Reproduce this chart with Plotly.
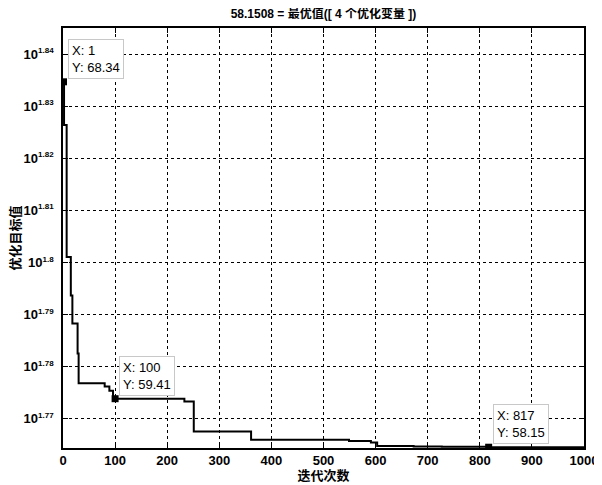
import math
import plotly.graph_objects as go

# step-change iterations and best objective values (held until next change)
iters = [1, 2, 7, 15, 18, 28, 30, 80, 89, 96, 233, 251, 361, 549, 591, 603, 673, 727, 817, 1000]
best_vals = [68.34, 67.05, 63.25, 62.18, 61.42, 60.61, 59.82, 59.73, 59.62, 59.41,
             59.34, 58.555, 58.34, 58.31, 58.27, 58.18, 58.17, 58.16, 58.15, 58.15]

tip_x = [1, 100, 817]
tip_y = [68.34, 59.41, 58.15]

y_tick_exps = [1.77, 1.78, 1.79, 1.80, 1.81, 1.82, 1.83, 1.84]
y_tick_exp_text = ["1.77", "1.78", "1.79", "1.8", "1.81", "1.82", "1.83", "1.84"]
x_ticks = [0, 100, 200, 300, 400, 500, 600, 700, 800, 900, 1000]

title_text = "58.1508 = 最优值([ 4 个优化变量 ])"
x_label = "迭代次数"
y_label = "优化目标值"

font_family = "Arial, Liberation Sans, Noto Sans CJK SC, sans-serif"

fig = go.Figure()
fig.add_trace(go.Scatter(x=iters, y=best_vals, mode="lines", line_shape="hv",
                         line=dict(color="black", width=2), showlegend=False,
                         hoverinfo="skip"))
fig.add_trace(go.Scatter(x=tip_x, y=tip_y, mode="markers",
                         marker=dict(symbol="square", size=7, color="black"),
                         showlegend=False))

for xv, yv in zip(tip_x, tip_y):
    fig.add_annotation(x=xv, y=math.log10(yv), xref="x", yref="y",
                       text=f"X: {xv}<br>Y: {yv:.2f}", showarrow=False,
                       xanchor="left", yanchor="bottom", xshift=4, yshift=3,
                       align="left", bgcolor="white", bordercolor="#c8c8c8",
                       borderwidth=1, borderpad=3,
                       font=dict(family=font_family, size=13, color="black"))

fig.update_layout(
    width=602, height=485,
    margin=dict(l=55, r=26, t=20, b=45),
    paper_bgcolor="white", plot_bgcolor="white",
    title=dict(text="<b>" + title_text + "</b>", x=0.5, xref="paper", xanchor="center",
               y=0.9876, yanchor="middle",
               font=dict(family=font_family, size=12, color="black")),
    font=dict(family=font_family, color="black"),
)
fig.update_xaxes(range=[0, 1000], tickvals=x_ticks,
                 ticktext=[f"<b>{t}</b>" for t in x_ticks],
                 ticks="inside", ticklen=5, tickcolor="black",
                 showline=True, linecolor="black", linewidth=1.5, mirror="ticks",
                 showgrid=True, gridcolor="black", griddash="dot", gridwidth=1,
                 zeroline=False, automargin=False, ticklabelstandoff=0,
                 tickfont=dict(family=font_family, size=13, color="black"),
                 title=dict(text="<b>" + x_label + "</b>", standoff=0,
                            font=dict(family=font_family, size=13, color="black")))
fig.update_yaxes(type="log", range=[1.7644, 1.845],
                 tickvals=[10 ** e for e in y_tick_exps],
                 ticktext=["<b>10<sup><span style='font-size:8px'>" + t + "</span></sup></b>"
                           for t in y_tick_exp_text],
                 ticks="inside", ticklen=5, tickcolor="black",
                 showline=True, linecolor="black", linewidth=1.5, mirror="ticks",
                 showgrid=True, gridcolor="black", griddash="dot", gridwidth=1,
                 zeroline=False, automargin=False, ticklabelstandoff=5,
                 tickfont=dict(family=font_family, size=13, color="black"),
                 title=dict(text="<b>" + y_label + "</b>", standoff=3,
                            font=dict(family=font_family, size=13, color="black")))

fig.write_html("out.html")
